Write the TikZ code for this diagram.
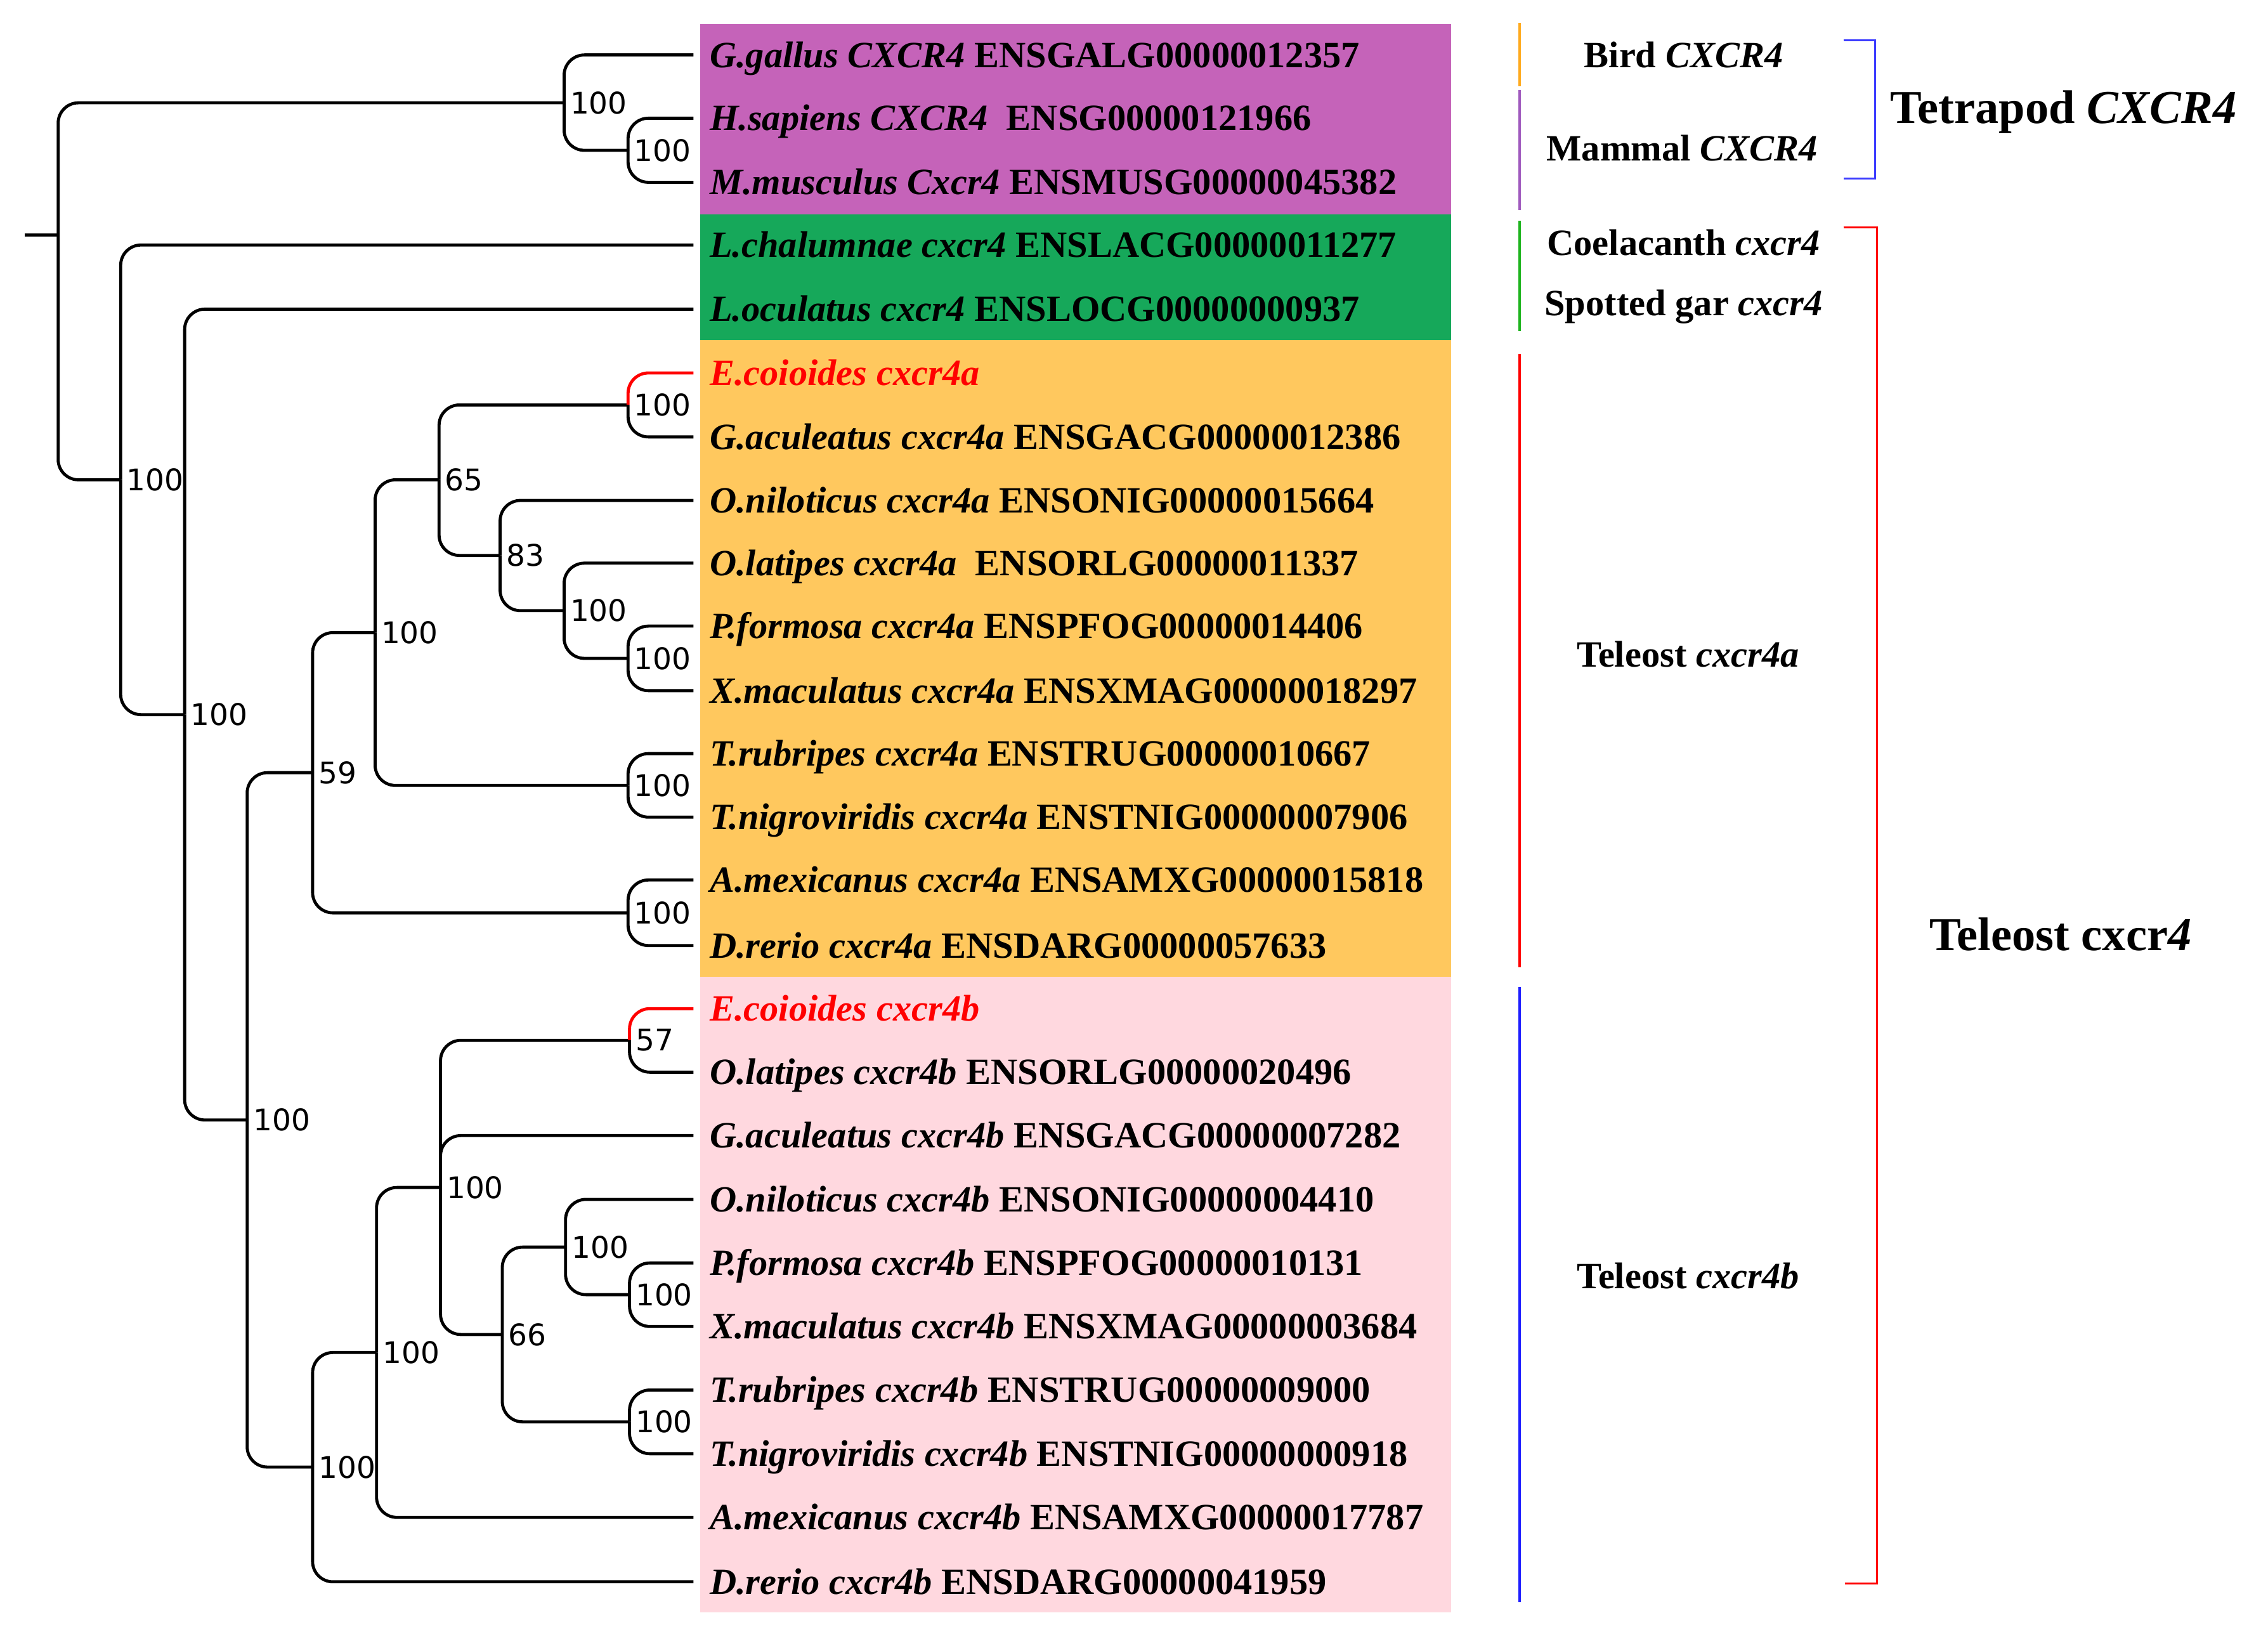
\documentclass[tikz,border=0pt]{standalone}
\usepackage{fontspec}
\setmainfont{Liberation Serif}
\newfontfamily\bsfont{DejaVu Sans}
\definecolor{cpurple}{RGB}{197,99,185}
\definecolor{cgreen}{RGB}{22,168,90}
\definecolor{corange}{RGB}{255,200,94}
\definecolor{cpink}{RGB}{255,216,223}
\definecolor{lorange}{RGB}{255,170,30}
\definecolor{lpurple}{RGB}{160,90,190}
\definecolor{lgreen}{RGB}{30,180,30}
\definecolor{lblue}{RGB}{30,30,255}
\definecolor{bblue}{RGB}{60,60,255}
\begin{document}
\begin{tikzpicture}[x=1pt,y=-1pt,
  branch/.style={line width=2.1pt, rounded corners=14pt},
  redbranch/.style={branch, draw=red},
  leaf/.style={anchor=base west, inner sep=0pt, font=\fontsize{25.5}{30}\selectfont\bfseries},
  boot/.style={anchor=west, inner sep=0pt, font=\bsfont\fontsize{20.5}{24}\selectfont},
  side/.style={line width=1.8pt},
  brk/.style={line width=1.4pt},
  grp/.style={anchor=base, inner sep=0pt, font=\fontsize{25.5}{30}\selectfont\bfseries},
  biggrp/.style={anchor=base west, inner sep=0pt, font=\fontsize{32.5}{38}\selectfont\bfseries}]
\useasboundingbox (0,0) rectangle (1560,1127.2);
% coloured boxes
\fill[cpurple] (481.6,16.5) rectangle (998,147.4);
\fill[cgreen]  (481.6,147.4) rectangle (998,233.7);
\fill[corange] (481.6,233.7) rectangle (998,672);
\fill[cpink]   (481.6,672) rectangle (998,1109);
% leaf ends
\coordinate (e1) at (477,37.8);
\coordinate (e2) at (477,81.3);
\coordinate (e3) at (477,125.4);
\coordinate (e4) at (477,168.5);
\coordinate (e5) at (477,212.6);
\coordinate (e6) at (477,256.5);
\coordinate (e7) at (477,300.5);
\coordinate (e8) at (477,344.2);
\coordinate (e9) at (477,387.3);
\coordinate (e10) at (477,430.6);
\coordinate (e11) at (477,475.0);
\coordinate (e12) at (477,518.3);
\coordinate (e13) at (477,562.0);
\coordinate (e14) at (477,605.2);
\coordinate (e15) at (477,650.3);
\coordinate (e16) at (477,693.7);
\coordinate (e17) at (477,737.4);
\coordinate (e18) at (477,781.0);
\coordinate (e19) at (477,824.9);
\coordinate (e20) at (477,868.6);
\coordinate (e21) at (477,912.3);
\coordinate (e22) at (477,956.0);
\coordinate (e23) at (477,999.8);
\coordinate (e24) at (477,1043.6);
\coordinate (e25) at (477,1087.9);
% leaf labels
\node[leaf] (l1) at (488,46.3) {\textit{G.gallus CXCR4} ENSGALG00000012357};
\node[leaf] (l2) at (488,89.8) {\textit{H.sapiens CXCR4}\ \ ENSG00000121966};
\node[leaf] (l3) at (488,133.9) {\textit{M.musculus Cxcr4} ENSMUSG00000045382};
\node[leaf] (l4) at (488,177.0) {\textit{L.chalumnae cxcr4} ENSLACG00000011277};
\node[leaf] (l5) at (488,221.1) {\textit{L.oculatus cxcr4} ENSLOCG00000000937};
\node[leaf,text=red] (l6) at (488,265.0) {\textit{E.coioides cxcr4a}};
\node[leaf] (l7) at (488,309.0) {\textit{G.aculeatus cxcr4a} ENSGACG00000012386};
\node[leaf] (l8) at (488,352.7) {\textit{O.niloticus cxcr4a} ENSONIG00000015664};
\node[leaf] (l9) at (488,395.8) {\textit{O.latipes cxcr4a}\ \ ENSORLG00000011337};
\node[leaf] (l10) at (488,439.1) {\textit{P.formosa cxcr4a} ENSPFOG00000014406};
\node[leaf] (l11) at (488,483.5) {\textit{X.maculatus cxcr4a} ENSXMAG00000018297};
\node[leaf] (l12) at (488,526.8) {\textit{T.rubripes cxcr4a} ENSTRUG00000010667};
\node[leaf] (l13) at (488,570.5) {\textit{T.nigroviridis cxcr4a} ENSTNIG00000007906};
\node[leaf] (l14) at (488,613.7) {\textit{A.mexicanus cxcr4a} ENSAMXG00000015818};
\node[leaf] (l15) at (488,658.8) {\textit{D.rerio cxcr4a} ENSDARG00000057633};
\node[leaf,text=red] (l16) at (488,702.2) {\textit{E.coioides cxcr4b}};
\node[leaf] (l17) at (488,745.9) {\textit{O.latipes cxcr4b} ENSORLG00000020496};
\node[leaf] (l18) at (488,789.5) {\textit{G.aculeatus cxcr4b} ENSGACG00000007282};
\node[leaf] (l19) at (488,833.4) {\textit{O.niloticus cxcr4b} ENSONIG00000004410};
\node[leaf] (l20) at (488,877.1) {\textit{P.formosa cxcr4b} ENSPFOG00000010131};
\node[leaf] (l21) at (488,920.8) {\textit{X.maculatus cxcr4b} ENSXMAG00000003684};
\node[leaf] (l22) at (488,964.5) {\textit{T.rubripes cxcr4b} ENSTRUG00000009000};
\node[leaf] (l23) at (488,1008.3) {\textit{T.nigroviridis cxcr4b} ENSTNIG00000000918};
\node[leaf] (l24) at (488,1052.1) {\textit{A.mexicanus cxcr4b} ENSAMXG00000017787};
\node[leaf] (l25) at (488,1096.4) {\textit{D.rerio cxcr4b} ENSDARG00000041959};
% internal nodes
\coordinate (stub) at (17,161.8);
\coordinate (R) at (40,161.8);
\coordinate (T) at (388,70.7);
\coordinate (HM) at (432,103.4);
\coordinate (A) at (83,330);
\coordinate (B) at (127,491.5);
\coordinate (C) at (170,770.3);
\coordinate (N59) at (215,531.4);
\coordinate (N100a) at (258,435.1);
\coordinate (N65) at (302,330);
\coordinate (EG) at (432,278.5);
\coordinate (N83) at (344,382);
\coordinate (N100f) at (388,420);
\coordinate (PXa) at (432,452.8);
\coordinate (Ta) at (432,540.2);
\coordinate (AD) at (432,627.8);
\coordinate (N100e) at (215,1009);
\coordinate (N100d) at (259,930.2);
\coordinate (N100b) at (303,816.7);
\coordinate (N57) at (433,715.5);
\coordinate (N66) at (345.5,917.8);
\coordinate (N100c) at (389,857.7);
\coordinate (PXb) at (433,890.4);
\coordinate (Tb) at (433,977.9);
% branches
\draw[branch] (stub) -- (R);
\draw[branch] (R) |- (T);
\draw[branch] (R) |- (A);
\draw[branch] (T) |- (e1);
\draw[branch] (T) |- (HM);
\draw[branch] (HM) |- (e2);
\draw[branch] (HM) |- (e3);
\draw[branch] (A) |- (e4);
\draw[branch] (A) |- (B);
\draw[branch] (B) |- (e5);
\draw[branch] (B) |- (C);
\draw[branch] (C) |- (N59);
\draw[branch] (C) |- (N100e);
\draw[branch] (N59) |- (N100a);
\draw[branch] (N59) |- (AD);
\draw[branch] (N100a) |- (N65);
\draw[branch] (N100a) |- (Ta);
\draw[branch] (N65) |- (EG);
\draw[branch] (N65) |- (N83);
\draw[redbranch] (EG) |- (e6);
\draw[branch] (EG) |- (e7);
\draw[branch] (N83) |- (e8);
\draw[branch] (N83) |- (N100f);
\draw[branch] (N100f) |- (e9);
\draw[branch] (N100f) |- (PXa);
\draw[branch] (PXa) |- (e10);
\draw[branch] (PXa) |- (e11);
\draw[branch] (Ta) |- (e12);
\draw[branch] (Ta) |- (e13);
\draw[branch] (AD) |- (e14);
\draw[branch] (AD) |- (e15);
\draw[branch] (N100e) |- (N100d);
\draw[branch] (N100e) |- (e25);
\draw[branch] (N100d) |- (N100b);
\draw[branch] (N100d) |- (e24);
\draw[branch] (N100b) |- (N57);
\draw[branch] (N100b) |- (e18);
\draw[branch] (N100b) |- (N66);
\draw[redbranch] (N57) |- (e16);
\draw[branch] (N57) |- (e17);
\draw[branch] (N66) |- (N100c);
\draw[branch] (N66) |- (Tb);
\draw[branch] (N100c) |- (e19);
\draw[branch] (N100c) |- (PXb);
\draw[branch] (PXb) |- (e20);
\draw[branch] (PXb) |- (e21);
\draw[branch] (Tb) |- (e22);
\draw[branch] (Tb) |- (e23);
% bootstrap values
\node[boot] (bT) at ([xshift=4pt]T) {100};
\node[boot] (bHM) at ([xshift=4pt]HM) {100};
\node[boot] (bA) at ([xshift=4pt]A) {100};
\node[boot] (bB) at ([xshift=4pt]B) {100};
\node[boot] (bC) at ([xshift=4pt]C) {100};
\node[boot] (bN59) at ([xshift=4pt]N59) {59};
\node[boot] (bN100a) at ([xshift=4pt]N100a) {100};
\node[boot] (bN65) at ([xshift=4pt]N65) {65};
\node[boot] (bEG) at ([xshift=4pt]EG) {100};
\node[boot] (bN83) at ([xshift=4pt]N83) {83};
\node[boot] (bN100f) at ([xshift=4pt]N100f) {100};
\node[boot] (bPXa) at ([xshift=4pt]PXa) {100};
\node[boot] (bTa) at ([xshift=4pt]Ta) {100};
\node[boot] (bAD) at ([xshift=4pt]AD) {100};
\node[boot] (bN100e) at ([xshift=4pt]N100e) {100};
\node[boot] (bN100d) at ([xshift=4pt]N100d) {100};
\node[boot] (bN100b) at ([xshift=4pt]N100b) {100};
\node[boot] (bN57) at ([xshift=4pt]N57) {57};
\node[boot] (bN66) at ([xshift=4pt]N66) {66};
\node[boot] (bN100c) at ([xshift=4pt]N100c) {100};
\node[boot] (bPXb) at ([xshift=4pt]PXb) {100};
\node[boot] (bTb) at ([xshift=4pt]Tb) {100};
% side group lines
\draw[side,lorange] (1045.4,15.6) -- (1045.4,59.4);
\draw[side,lpurple] (1045.4,62) -- (1045.4,144.6);
\draw[side,lgreen] (1045.4,151.9) -- (1045.4,227.5);
\draw[side,red] (1045.4,243.5) -- (1045.4,665.4);
\draw[side,lblue] (1045.4,678.7) -- (1045.4,1102);
% group labels
\node[grp] (gBird) at (1158,46.5) {Bird \textit{CXCR4}};
\node[grp] (gMam) at (1157,110.5) {Mammal \textit{CXCR4}};
\node[grp] (gCoel) at (1158,175.5) {Coelacanth \textit{cxcr4}};
\node[grp] (gGar) at (1158,217) {Spotted gar \textit{cxcr4}};
\node[grp] (gTa) at (1161,458.5) {Teleost \textit{cxcr4a}};
\node[grp] (gTb) at (1161,886) {Teleost \textit{cxcr4b}};
% brackets
\draw[brk,bblue] (1268,27.8) -- (1289.7,27.8) -- (1289.7,122.7) -- (1268,122.7);
\draw[brk,red] (1268,156.4) -- (1291,156.4) -- (1291,1088.9) -- (1269,1088.9);
\node[biggrp] (gTet) at (1300,84.7) {Tetrapod \textit{CXCR4}};
\node[biggrp] (gTel) at (1327,653.7) {Teleost cxcr\textit{4}};
\end{tikzpicture}
\end{document}
